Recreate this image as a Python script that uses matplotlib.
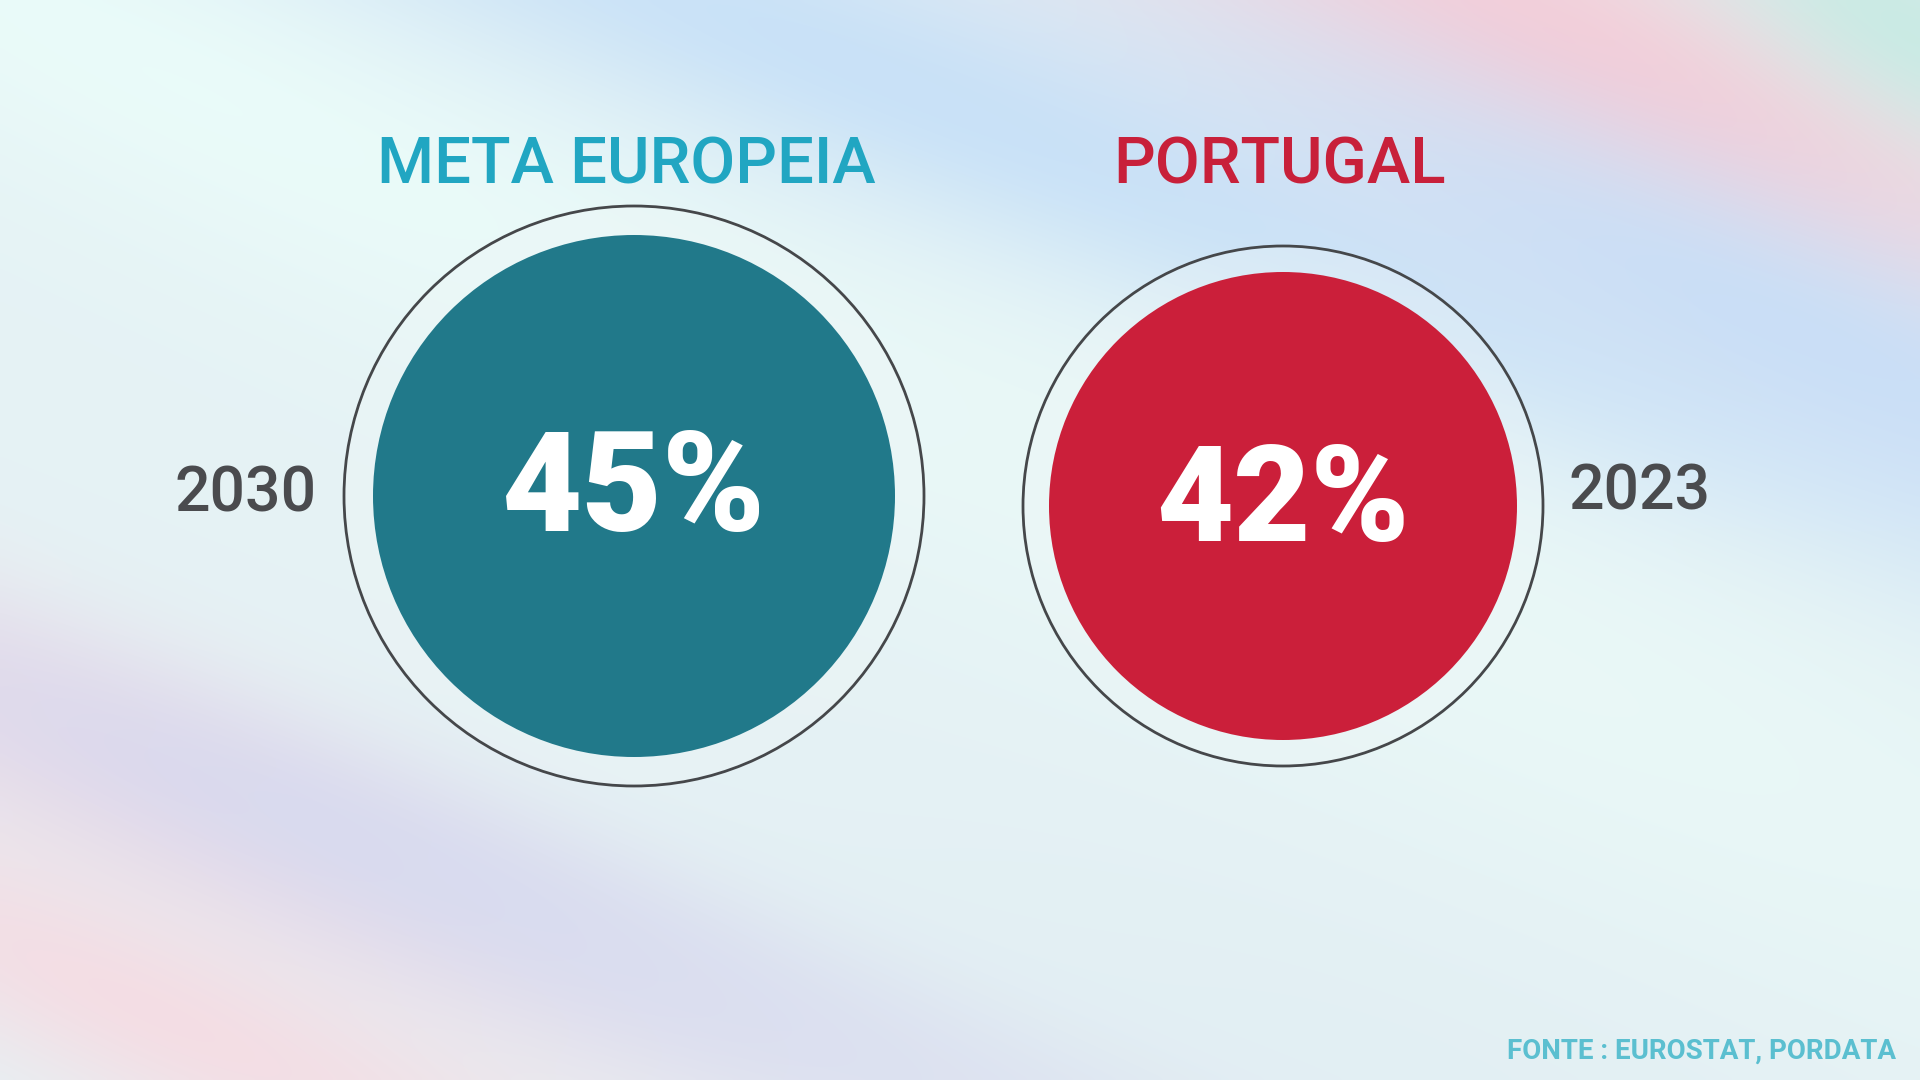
import numpy as np
import matplotlib.pyplot as plt
from matplotlib.patches import Circle

# data
labels = ["META EUROPEIA", "PORTUGAL"]
values = ["45%", "42%"]
years = ["2030", "2023"]
title_colors = ["#21a6c2", "#c8203a"]
fill_colors = ["#21798a", "#cb1f3a"]
source = "FONTE : EUROSTAT, PORDATA"

W, H = 1920, 1080

plt.rcParams['font.family'] = ['Roboto', 'DejaVu Sans']


def soft_background():
    # pastel diagonal bands, drawn as a smooth image
    yy, xx = np.mgrid[0:H:4, 0:W:4].astype(float)
    img = np.ones(xx.shape + (3,)) * np.array([0.90, 0.95, 0.96])

    def band(cx, cy, angle, width, length):
        a = np.deg2rad(angle)
        u = (xx - cx) * np.cos(a) + (yy - cy) * np.sin(a)
        v = -(xx - cx) * np.sin(a) + (yy - cy) * np.cos(a)
        return np.exp(-(v / width) ** 2 - (u / length) ** 2)

    def mix(weight, color, k=1.0):
        c = np.array(color)
        w = np.clip(weight * k, 0, 1)[..., None]
        return img * (1 - w) + c * w

    img = mix(band(200, 80, 25, 160, 900), [0.92, 0.99, 0.98], 0.9)
    img = mix(band(950, 110, 22, 130, 1100), [0.78, 0.88, 0.97], 1.0)
    img = mix(band(1580, 60, 25, 150, 650), [0.97, 0.80, 0.84], 1.0)
    img = mix(band(1800, 330, 25, 130, 700), [0.78, 0.87, 0.97], 0.9)
    img = mix(band(1910, 30, 30, 90, 260), [0.78, 0.92, 0.89], 0.9)
    img = mix(band(1500, 640, 25, 180, 900), [0.92, 0.98, 0.97], 0.7)
    img = mix(band(150, 780, 25, 110, 600), [0.96, 0.84, 0.88], 0.8)
    img = mix(band(400, 860, 22, 90, 650), [0.82, 0.84, 0.94], 0.8)
    img = mix(band(150, 1010, 25, 110, 600), [0.97, 0.85, 0.88], 0.8)
    img = mix(band(900, 1060, 20, 100, 900), [0.86, 0.87, 0.94], 0.6)
    img = mix(band(1400, 1050, 20, 150, 700), [0.88, 0.93, 0.95], 0.5)
    return img


fig = plt.figure(figsize=(19.2, 10.8), dpi=100)
ax = fig.add_axes([0, 0, 1, 1])
ax.imshow(soft_background(), extent=[0, W, H, 0], interpolation='bicubic', zorder=0)
ax.set_xlim(0, W)
ax.set_ylim(H, 0)
ax.set_aspect('equal')
ax.axis('off')

centers = [(634, 496), (1283, 506)]
outer_r = [290, 260]
inner_r = [261, 234]
title_x = [626, 1280]
value_size = [100, 96]
value_y = [493, 504]
year_x = [246, 1640]
year_y = [495, 492]

for i in range(len(labels)):
    cx, cy = centers[i]
    ax.add_patch(Circle((cx, cy), outer_r[i], facecolor='#eef6f6', alpha=0.35,
                        edgecolor='none', zorder=1))
    ax.add_patch(Circle((cx, cy), outer_r[i], facecolor='none', edgecolor='#45474a',
                        linewidth=2, zorder=2))
    ax.add_patch(Circle((cx, cy), inner_r[i], facecolor=fill_colors[i],
                        edgecolor='none', zorder=3))
    ax.text(title_x[i], 165, labels[i], color=title_colors[i], fontsize=47,
            fontweight='medium', ha='center', va='center', zorder=4)
    ax.text(cx, value_y[i], values[i], color='white', fontsize=value_size[i],
            fontweight='black', ha='center', va='center', zorder=4)
    ax.text(year_x[i], year_y[i], years[i], color='#4a4b4e', fontsize=45,
            fontweight='medium', ha='center', va='center', zorder=4)

ax.text(1896, 1051, source, color='#5bbfd0', fontsize=20, fontweight='bold',
        ha='right', va='center', zorder=4)

fig.savefig('out.png', dpi=100)
plt.close(fig)
